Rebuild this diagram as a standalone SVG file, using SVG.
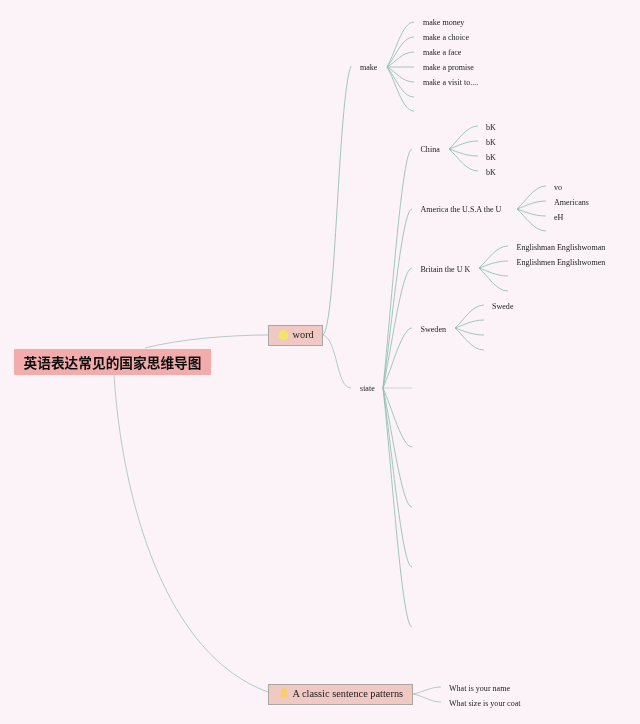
<svg xmlns="http://www.w3.org/2000/svg" width="640" height="724" viewBox="0 0 640 724">
<defs><filter id="soft" x="-5%" y="-20%" width="110%" height="140%"><feGaussianBlur stdDeviation=".22"/></filter></defs>
<style>
.t{font-family:"Liberation Serif","Noto Sans CJK SC",serif;font-size:8.05px;fill:#1c1c1c;filter:url(#soft)}
.b{font-family:"Liberation Serif","Noto Sans CJK SC",serif;font-size:10.35px;fill:#1c1c1c;filter:url(#soft)}
.c path{fill:none;stroke:#a3bfbb;stroke-width:.8}
.c path.s{stroke:#8fbfb0;stroke-width:.85}
.box{fill:#f0c8c4;stroke:#a8a8a0;stroke-width:1}
</style>
<rect width="640" height="724" fill="#fbf3f8"/>
<g id="connectors" class="c">
<path d="M145 348C180 339 230 335 268 335"/>
<path d="M114 375C122 500 165 655 268 692"/>
<path class="s" d="M323 335C336 325 338 100 351 66"/>
<path d="M323 335C338 340 336 388 351 388"/>
<path class="s" d="M387 67C396 51 402 22 414 22"/>
<path class="s" d="M387 67C396 56 402 37 414 37"/>
<path class="s" d="M387 67C396 62 402 52 414 52"/>
<path class="s" d="M387 67H414"/>
<path class="s" d="M387 67C396 72 402 82 414 82"/>
<path class="s" d="M387 67C396 78 402 97 414 97"/>
<path class="s" d="M387 67C396 82 402 111 414 111"/>
<path class="s" d="M383 388C392 300 402 149 412 149"/>
<path class="s" d="M383 388C392 325 402 209 412 209"/>
<path class="s" d="M383 388C392 345 402 268 412 268"/>
<path class="s" d="M383 388C392 368 402 328 412 328"/>
<path d="M383 388H412" style="stroke:#b9cfc9"/>
<path class="s" d="M383 388C392 408 402 447 412 447"/>
<path class="s" d="M383 388C392 430 402 507 412 507"/>
<path class="s" d="M383 388C392 450 402 567 412 567"/>
<path class="s" d="M383 388C392 470 402 627 412 627"/>
<path class="s" d="M449 149C458 141 466 126 478 126"/>
<path class="s" d="M449 149C458 146 466 141 478 141"/>
<path class="s" d="M449 149C458 152 466 156 478 156"/>
<path class="s" d="M449 149C458 157 466 171 478 171"/>
<path class="s" d="M517 209C526 201 534 186 546 186"/>
<path class="s" d="M517 209C526 206 534 201 546 201"/>
<path class="s" d="M517 209C526 212 534 216 546 216"/>
<path class="s" d="M517 209C526 217 534 231 546 231"/>
<path class="s" d="M479 268C488 260 496 246 508 246"/>
<path class="s" d="M479 268C488 265 496 261 508 261"/>
<path class="s" d="M479 268C488 271 496 276 508 276"/>
<path class="s" d="M479 268C488 276 496 291 508 291"/>
<path class="s" d="M455 328C464 320 472 305 484 305"/>
<path class="s" d="M455 328C464 325 472 320 484 320"/>
<path class="s" d="M455 328C464 331 472 335 484 335"/>
<path class="s" d="M455 328C464 336 472 350 484 350"/>
<path d="M413 694C424 692 430 687 441 687"/>
<path d="M413 694C424 696 430 702 441 702"/>
</g>
<g id="root"><rect x="14" y="349" width="197" height="26" rx="1" fill="#f2acac"/><text x="23.500" y="368" font-family="'Noto Sans CJK SC',sans-serif" font-size="13.700" font-weight="700" fill="#111" filter="url(#soft)">英语表达常见的国家思维导图</text></g>
<g id="word"><rect class="box" x="268.500" y="325.500" width="54" height="20"/><circle cx="283.500" cy="335" r="5" fill="#f6e46a"/><text class="b" x="292.500" y="338">word</text></g>
<g id="patterns"><rect class="box" x="268.500" y="684.500" width="144" height="20"/><path d="M284 688c-3 0-3 3-3 6l-1.500 4h9l-1.500-4c0-3 0-6-3-6z" fill="#f6cf6a"/><text class="b" x="292.500" y="697">A classic sentence patterns</text></g>
<g id="make"><text class="t" x="360" y="70">make</text></g>
<g id="make-money"><text class="t" x="423" y="25">make money</text></g>
<g id="make-choice"><text class="t" x="423" y="40">make a choice</text></g>
<g id="make-face"><text class="t" x="423" y="55">make a face</text></g>
<g id="make-promise"><text class="t" x="423" y="70">make a promise</text></g>
<g id="make-visit"><text class="t" x="423" y="85">make a visit to....</text></g>
<g id="state"><text class="t" x="360" y="391">state</text></g>
<g id="china"><text class="t" x="420.500" y="152">China</text></g>
<g id="china-1"><text class="t" x="486" y="130">bK</text></g>
<g id="china-2"><text class="t" x="486" y="145">bK</text></g>
<g id="china-3"><text class="t" x="486" y="160">bK</text></g>
<g id="china-4"><text class="t" x="486" y="175">bK</text></g>
<g id="america"><text class="t" x="420.500" y="212">America the U.S.A the U</text></g>
<g id="america-1"><text class="t" x="554" y="190">vo</text></g>
<g id="america-2"><text class="t" x="554" y="205">Americans</text></g>
<g id="america-3"><text class="t" x="554" y="220">eH</text></g>
<g id="britain"><text class="t" x="420.500" y="272">Britain the U K</text></g>
<g id="britain-1"><text class="t" x="516.500" y="249.500">Englishman Englishwoman</text></g>
<g id="britain-2"><text class="t" x="516.500" y="264.500">Englishmen Englishwomen</text></g>
<g id="sweden"><text class="t" x="420.500" y="332">Sweden</text></g>
<g id="sweden-1"><text class="t" x="492" y="309">Swede</text></g>
<g id="name"><text class="t" x="449" y="691">What is your name</text></g>
<g id="coat"><text class="t" x="449" y="706">What size is your coat</text></g>
</svg>
